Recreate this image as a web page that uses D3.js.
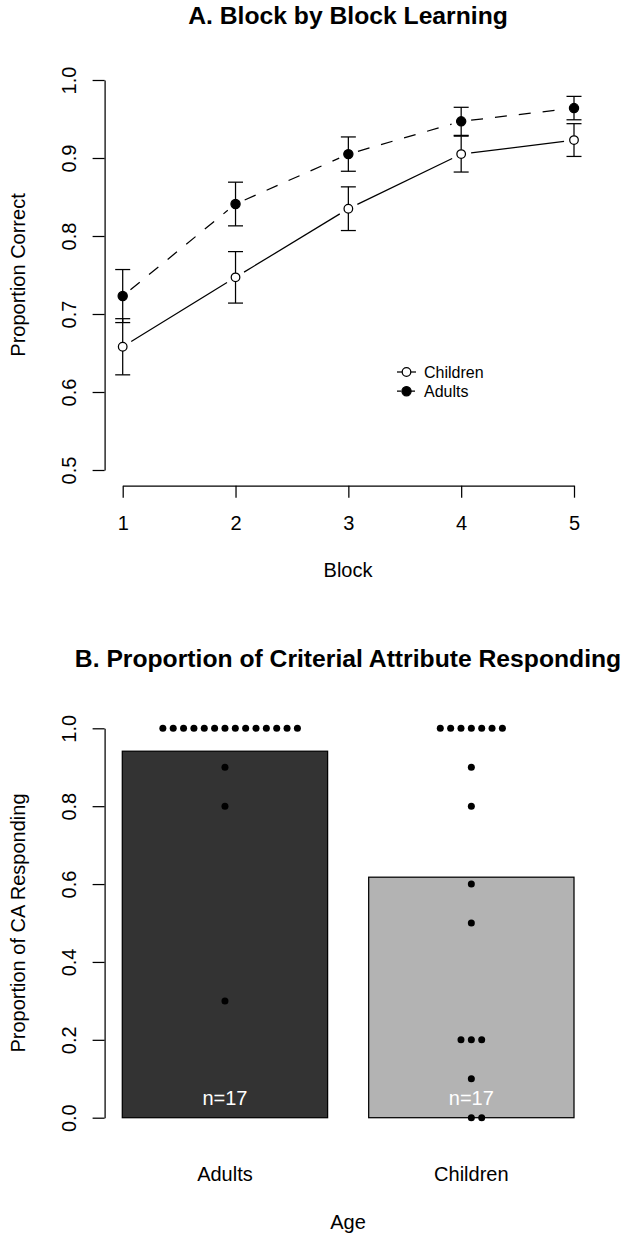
<!DOCTYPE html>
<html>
<head>
<meta charset="utf-8">
<script src="https://cdn.jsdelivr.net/npm/d3@7"></script>
<style>
  html, body { margin: 0; padding: 0; background: #fff; }
  svg { display: block; }
  text { font-family: "Liberation Sans", Arial, Helvetica, sans-serif; fill: #000; }
</style>
</head>
<body>
<svg id="chart" width="623" height="1236"></svg>
<script>
// ---------- Data ----------
const blocks = [1, 2, 3, 4, 5];
const childrenMean = [0.658, 0.747, 0.835, 0.905, 0.923];
const childrenSE   = [0.036, 0.033, 0.028, 0.023, 0.021];
const adultsMean   = [0.723, 0.841, 0.905, 0.947, 0.964];
const adultsSE     = [0.034, 0.028, 0.022, 0.018, 0.015];
const yTicksA = [0.5, 0.6, 0.7, 0.8, 0.9, 1.0];

const groups = ["Adults", "Children"];
const adultsScores   = [1,1,1,1,1,1,1,1,1,1,1,1,1,1, 0.9, 0.8, 0.3];
const childrenScores = [1,1,1,1,1,1,1, 0.9, 0.8, 0.6, 0.5, 0.2, 0.2, 0.2, 0.1, 0, 0];
const groupScores = [adultsScores, childrenScores];
const barColors = ["#333333", "#b3b3b3"];
const yTicksB = [0, 0.2, 0.4, 0.6, 0.8, 1.0];

const titleA = "A. Block by Block Learning";
const titleB = "B. Proportion of Criterial Attribute Responding";

// ---------- Setup ----------
const svg = d3.select("#chart");
const LW = 1.25;
const cx = 348;
const titleSize = 24.7;

// ===== Panel A =====
const xA = d3.scaleLinear().domain([1, 5]).range([122.7, 574]);
const yA = d3.scaleLinear().domain([0.5, 1.0]).range([470, 80]);
const axisXPos = 104.6;
const gA = svg.append("g");

gA.append("text").attr("x", cx).attr("y", 24).attr("text-anchor", "middle")
  .attr("font-size", titleSize).attr("font-weight", "bold").text(titleA);

// y axis
const yAxisA = d3.axisLeft(yA).tickValues(yTicksA).tickSize(12).tickSizeOuter(0)
  .tickFormat(d3.format(".1f"));
const gyA = gA.append("g").attr("transform", `translate(${axisXPos},0)`).call(yAxisA);
styleAxis(gyA, true);

// x axis
const xAxisA = d3.axisBottom(xA).tickValues(blocks).tickSize(12).tickSizeOuter(0)
  .tickFormat(d3.format("d"));
const gxA = gA.append("g").attr("transform", `translate(0,485.7)`).call(xAxisA);
styleAxis(gxA, false);

gA.append("text").attr("x", cx).attr("y", 577).attr("text-anchor", "middle")
  .attr("font-size", 20).text("Block");
gA.append("text").attr("transform", `translate(25,275) rotate(-90)`)
  .attr("text-anchor", "middle").attr("font-size", 20).text("Proportion Correct");

function gappedSegments(g, xs, ys, gap, dash) {
  for (let i = 0; i < xs.length - 1; i++) {
    const x1 = xs[i], y1 = ys[i], x2 = xs[i + 1], y2 = ys[i + 1];
    const L = Math.hypot(x2 - x1, y2 - y1);
    const ux = (x2 - x1) / L, uy = (y2 - y1) / L;
    g.append("line")
      .attr("x1", x1 + ux * gap).attr("y1", y1 + uy * gap)
      .attr("x2", x2 - ux * gap).attr("y2", y2 - uy * gap)
      .attr("stroke", "#000").attr("stroke-width", LW)
      .attr("stroke-dasharray", dash || null);
  }
}

function drawSeries(means, ses, filled, dash) {
  const g = gA.append("g");
  const px = blocks.map(b => xA(b));
  const py = means.map(m => yA(m));
  gappedSegments(g, px, py, 10, dash);
  // error bars
  blocks.forEach((b, i) => {
    const x = xA(b), yt = yA(means[i] + ses[i]), yb = yA(means[i] - ses[i]);
    g.append("line").attr("x1", x).attr("x2", x).attr("y1", yt).attr("y2", yb)
      .attr("stroke", "#000").attr("stroke-width", LW);
    [yt, yb].forEach(yy => g.append("line").attr("x1", x - 7.5).attr("x2", x + 7.5)
      .attr("y1", yy).attr("y2", yy).attr("stroke", "#000").attr("stroke-width", LW));
  });
  g.selectAll("circle").data(means).enter().append("circle")
    .attr("cx", (d, i) => xA(blocks[i])).attr("cy", d => yA(d))
    .attr("r", filled ? 4.6 : 4.3)
    .attr("fill", filled ? "#000" : "#fff")
    .attr("stroke", "#000").attr("stroke-width", LW);
}
drawSeries(childrenMean, childrenSE, false, null);
drawSeries(adultsMean, adultsSE, true, "12,12");

// legend
const legendItems = [
  { label: "Children", filled: false, dash: null },
  { label: "Adults", filled: true, dash: "4,3" }
];
legendItems.forEach((it, i) => {
  const ly = 372 + i * 19.2;
  gA.append("line").attr("x1", 397).attr("x2", 416).attr("y1", ly).attr("y2", ly)
    .attr("stroke", "#000").attr("stroke-width", LW).attr("stroke-dasharray", it.dash);
  gA.append("circle").attr("cx", 406.5).attr("cy", ly).attr("r", it.filled ? 4.6 : 4.3)
    .attr("fill", it.filled ? "#000" : "#fff").attr("stroke", "#000").attr("stroke-width", LW);
  gA.append("text").attr("x", 424).attr("y", ly).attr("dy", "0.36em")
    .attr("font-size", 16).text(it.label);
});

// ===== Panel B =====
const xB = d3.scaleBand().domain(groups).range([122.3, 574]).paddingInner(1 / 6).paddingOuter(0);
const yB = d3.scaleLinear().domain([0, 1]).range([1117.7, 728.3]);
const gB = svg.append("g");

gB.append("text").attr("x", cx).attr("y", 667).attr("text-anchor", "middle")
  .attr("font-size", titleSize).attr("font-weight", "bold").text(titleB);

const yAxisB = d3.axisLeft(yB).tickValues(yTicksB).tickSize(12).tickSizeOuter(0)
  .tickFormat(d3.format(".1f"));
const gyB = gB.append("g").attr("transform", `translate(${axisXPos},0)`).call(yAxisB);
styleAxis(gyB, true);

gB.append("text").attr("transform", `translate(25,923) rotate(-90)`)
  .attr("text-anchor", "middle").attr("font-size", 20).text("Proportion of CA Responding");

const means = groupScores.map(s => d3.mean(s));
gB.selectAll("rect.bar").data(groups).enter().append("rect").attr("class", "bar")
  .attr("x", d => xB(d)).attr("width", xB.bandwidth())
  .attr("y", (d, i) => yB(means[i])).attr("height", (d, i) => yB(0) - yB(means[i]))
  .attr("fill", (d, i) => barColors[i]).attr("stroke", "#000").attr("stroke-width", LW);

// category labels
gB.selectAll("text.cat").data(groups).enter().append("text").attr("class", "cat")
  .attr("x", d => xB(d) + xB.bandwidth() / 2).attr("y", 1181)
  .attr("text-anchor", "middle").attr("font-size", 20).text(d => d);
gB.append("text").attr("x", cx).attr("y", 1229).attr("text-anchor", "middle")
  .attr("font-size", 20).text("Age");

// n labels
gB.selectAll("text.n").data(groups).enter().append("text").attr("class", "n")
  .attr("x", d => xB(d) + xB.bandwidth() / 2).attr("y", 1105)
  .attr("text-anchor", "middle").attr("font-size", 20)
  .style("fill", "#fff").text((d, i) => "n=" + groupScores[i].length);

// dots (swarm-like rows)
const dotSpacing = 10.35;
groups.forEach((grp, gi) => {
  const center = xB(grp) + xB.bandwidth() / 2;
  const counts = new Map();
  groupScores[gi].forEach(v => {
    const k = counts.get(v) || 0;
    counts.set(v, k + 1);
    const off = k === 0 ? 0 : (k % 2 === 1 ? (k + 1) / 2 : -k / 2);
    gB.append("circle").attr("cx", center + off * dotSpacing).attr("cy", yB(v))
      .attr("r", 3.5).attr("fill", "#000");
  });
});

function styleAxis(g, vertical) {
  g.select(".domain").attr("stroke", "#000").attr("stroke-width", LW);
  g.selectAll(".tick line").attr("stroke", "#000").attr("stroke-width", LW);
  g.selectAll(".tick text").attr("font-size", 20).attr("fill", "#000")
    .attr("font-family", "\"Liberation Sans\", Arial, sans-serif");
  if (vertical) {
    g.selectAll(".tick text")
      .attr("x", null)
      .attr("text-anchor", "middle")
      .attr("transform", "translate(-29,0) rotate(-90)")
      .attr("y", 0)
      .attr("dy", "0");
  } else {
    g.selectAll(".tick text").attr("y", 44).attr("dy", "0");
  }
}
</script>
</body>
</html>
